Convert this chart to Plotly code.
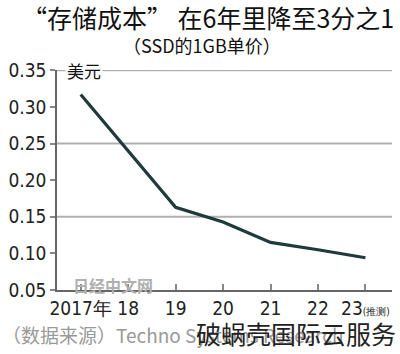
import plotly.graph_objects as go

years = [2017, 2018, 2019, 2020, 2021, 2022, 2023]
tick_labels = ["2017年", "18", "19", "20", "21", "22", "23<span style='font-size:10px'>(推测)</span>"]
price_usd = [0.317, 0.240, 0.163, 0.143, 0.115, 0.105, 0.094]
y_ticks = [0.05, 0.10, 0.15, 0.20, 0.25, 0.30, 0.35]
grid_levels = [0.15, 0.25, 0.35]

narrow = "Liberation Sans Narrow, DejaVu Sans Condensed, Arial Narrow, sans-serif"
cjk = "Noto Sans CJK SC, Noto Sans CJK JP, sans-serif"

fig = go.Figure()
for g in grid_levels:
    fig.add_shape(type="line", xref="paper", x0=0, x1=1, yref="y", y0=g, y1=g,
                  line=dict(color="#b0b0b0", width=2), layer="below")

fig.add_trace(go.Scatter(x=years, y=price_usd, mode="lines",
                         line=dict(color="#1e3a3a", width=3.2), hoverinfo="skip"))

fig.update_layout(
    width=400, height=354,
    margin=dict(l=53, r=8, t=70, b=64),
    paper_bgcolor="white", plot_bgcolor="rgba(0,0,0,0)",
    showlegend=False,
    xaxis=dict(range=[2016.5, 2023.56], tickvals=years, ticktext=tick_labels,
               showgrid=False, zeroline=False, showline=True, linecolor="#666666", linewidth=1.5,
               ticks="inside", ticklen=6, tickwidth=1.5, tickcolor="#888888",
               tickfont=dict(family=narrow, size=19, color="#222222")),
    yaxis=dict(range=[0.05, 0.3505], tickvals=y_ticks, tickformat=".2f",
               showgrid=False, zeroline=False, showline=True, linecolor="#666666", linewidth=1.5,
               ticks="outside", ticklen=5, tickwidth=1.5, tickcolor="#888888",
               tickfont=dict(family=narrow, size=19, color="#222222")),
)

fig.add_annotation(text="“存储成本” 在6年里降至3分之1", xref="paper", yref="paper",
                   x=0.5, y=1, xshift=-17, yshift=53, yanchor="middle", showarrow=False,
                   font=dict(family=cjk, size=25, color="#111111"))
fig.add_annotation(text="（SSD的1GB单价）", xref="paper", yref="paper",
                   x=0.5, y=1, xshift=-23, yshift=25, yanchor="middle", showarrow=False,
                   font=dict(family=cjk, size=18, color="#111111"))
fig.add_annotation(text="美元", xref="paper", yref="paper", x=0, y=1, xanchor="left",
                   yanchor="middle", xshift=8, showarrow=False, bgcolor="white",
                   font=dict(family=cjk, size=17, color="#111111"))
fig.add_annotation(text="<b>日经中文网</b>", xref="paper", yref="paper", x=0, y=0, xanchor="left",
                   yanchor="middle", xshift=14, yshift=5, showarrow=False,
                   font=dict(family=cjk, size=16, color="#b0b0b0"))
fig.add_annotation(text="（数据来源）Techno Systems Research", xref="paper", yref="paper",
                   x=0, y=0, xanchor="left", yanchor="middle", xshift=-57, yshift=-44,
                   showarrow=False, font=dict(family=cjk, size=19, color="#999999"))
fig.add_annotation(text="破蜗壳国际云服务", xref="paper", yref="paper",
                   x=1, y=0, xanchor="right", yanchor="middle", xshift=6, yshift=-43,
                   showarrow=False, font=dict(family=cjk, size=25, color="#222222"))

fig.write_html("out.html")
